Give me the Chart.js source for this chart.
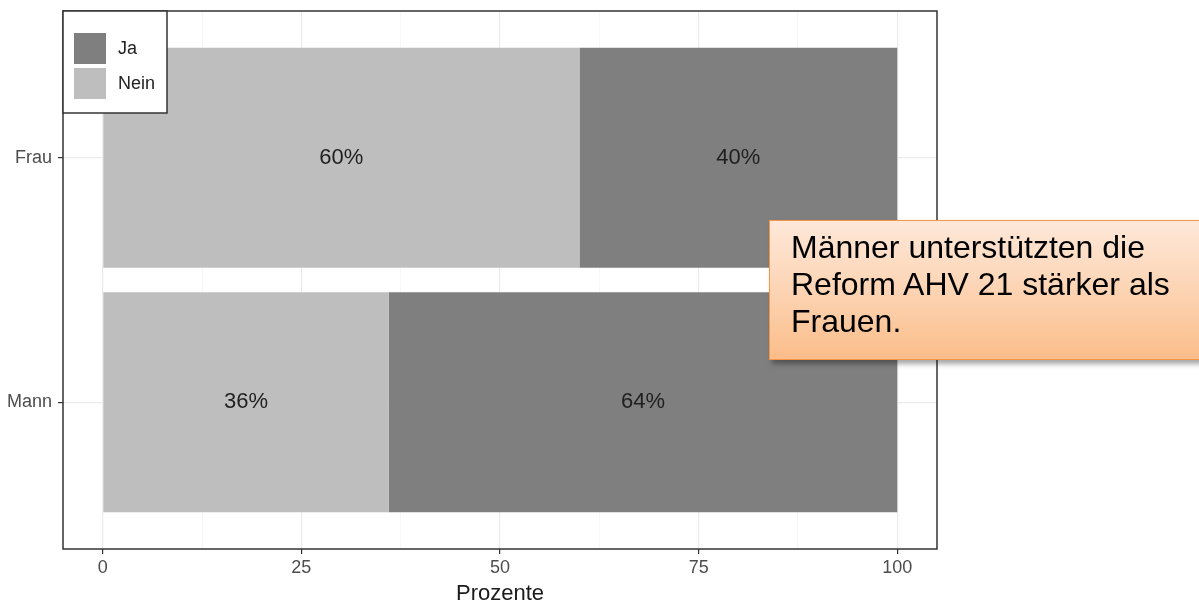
<!DOCTYPE html>
<html lang="de">
<head>
<meta charset="utf-8">
<title>AHV 21 – Zustimmung nach Geschlecht</title>
<script src="https://cdn.jsdelivr.net/npm/chart.js@4/dist/chart.umd.min.js"></script>
<style>
  html, body { margin: 0; padding: 0; background: #ffffff; overflow: hidden; }
  #wrap { position: relative; width: 1199px; height: 609px; overflow: hidden; }
  #chart { position: absolute; left: 0; top: 0; }
  #note {
    position: absolute;
    left: 769px; top: 220px;
    width: 460px; height: 140px;
    box-sizing: border-box;
    padding: 8px 0 0 21px;
    border: 1.5px solid #f79646;
    background: linear-gradient(to bottom, #fee8d9 0%, #fcd2b0 55%, #fbbd89 100%);
    box-shadow: 3px 4px 5px rgba(0, 0, 0, 0.35);
    font-family: "Liberation Sans", Arial, sans-serif;
    font-size: 32px;
    line-height: 37px;
    color: #000000;
  }
</style>
</head>
<body>
<div id="wrap">
  <canvas id="chart" width="1199" height="609"></canvas>
  <div id="note">Männer unterstützten die<br>Reform AHV 21 stärker als<br>Frauen.</div>
</div>
<script>
// Kategorien und Anteile (Prozent)
const categories = ['Frau', 'Mann'];
const nein = [60, 36];
const ja = [40, 64];
const xTicks = [0, 25, 50, 75, 100];
const xMinorTicks = [12.5, 37.5, 62.5, 87.5];

const FONT = '"Liberation Sans", Arial, sans-serif';
const COL_JA = '#7f7f7f';
const COL_NEIN = '#bebebe';

// categories sit at positions 1, 2 on a linear index axis
const toPoints = vals => vals.map((v, i) => ({ x: v, y: i + 1 }));

// Prozentwerte in der Mitte jedes Balkens
const barLabels = {
  id: 'barLabels',
  afterDatasetsDraw(chart) {
    const ctx = chart.ctx;
    ctx.save();
    ctx.font = '22px ' + FONT;
    ctx.fillStyle = '#1f1f1f';
    ctx.textAlign = 'center';
    ctx.textBaseline = 'middle';
    chart.data.datasets.forEach((ds, di) => {
      chart.getDatasetMeta(di).data.forEach((el, i) => {
        const v = ds.data[i].x;
        ctx.fillText(v + '%', (el.x + el.base) / 2, el.y);
      });
    });
    ctx.restore();
  }
};

// Panelrahmen und Legende
const panelFrame = {
  id: 'panelFrame',
  afterDraw(chart) {
    const ctx = chart.ctx;
    const a = chart.chartArea;
    ctx.save();
    ctx.strokeStyle = '#333333';
    ctx.lineWidth = 1.5;
    ctx.strokeRect(a.left, a.top, a.right - a.left, a.bottom - a.top);

    // Legende oben links im Panel
    const lx = a.left, ly = a.top, lw = 104, lh = 102;
    ctx.fillStyle = '#ffffff';
    ctx.fillRect(lx, ly, lw, lh);
    ctx.strokeRect(lx, ly, lw, lh);
    const entries = [
      { label: 'Ja', color: COL_JA },
      { label: 'Nein', color: COL_NEIN }
    ];
    ctx.font = '18px ' + FONT;
    ctx.textAlign = 'left';
    ctx.textBaseline = 'middle';
    entries.forEach((e, i) => {
      const ky = ly + 22 + i * 35;
      ctx.fillStyle = e.color;
      ctx.fillRect(lx + 11, ky, 32, 31);
      ctx.fillStyle = '#222222';
      ctx.fillText(e.label, lx + 55, ky + 16);
    });
    ctx.restore();
  }
};

new Chart(document.getElementById('chart'), {
  type: 'bar',
  data: {
    datasets: [
      { label: 'Nein', data: toPoints(nein), backgroundColor: COL_NEIN },
      { label: 'Ja', data: toPoints(ja), backgroundColor: COL_JA }
    ]
  },
  options: {
    indexAxis: 'y',
    responsive: false,
    animation: false,
    devicePixelRatio: 1,
    barPercentage: 0.9,
    categoryPercentage: 1.0,
    layout: { padding: { left: 0, top: 11, right: 262, bottom: 0 } },
    plugins: {
      legend: { display: false },
      tooltip: { enabled: false }
    },
    scales: {
      x: {
        type: 'linear',
        stacked: true,
        min: -5,
        max: 105,
        afterBuildTicks(scale) {
          scale.ticks = xTicks.concat(xMinorTicks).sort((p, q) => p - q).map(v => ({ value: v }));
        },
        afterFit(scale) {
          scale.height = 60;
          scale.paddingLeft = 0;
          scale.paddingRight = 0;
        },
        border: { display: false },
        grid: {
          color: c => (c.tick && c.tick.value % 25 === 0) ? '#ebebeb' : '#f3f3f3',
          lineWidth: c => (c.tick && c.tick.value % 25 === 0) ? 1.2 : 0.7,
          tickColor: c => (c.tick && c.tick.value % 25 === 0) ? '#333333' : 'rgba(0,0,0,0)',
          tickLength: 5,
          tickWidth: 1.2
        },
        ticks: {
          autoSkip: false,
          maxRotation: 0,
          padding: 3,
          color: '#4d4d4d',
          font: { family: FONT, size: 18 },
          callback: v => (xTicks.includes(v) ? String(v) : '')
        },
        title: {
          display: true,
          text: 'Prozente',
          color: '#1a1a1a',
          font: { family: FONT, size: 22 },
          padding: { top: 0, bottom: 2 }
        }
      },
      y: {
        type: 'linear',
        stacked: true,
        reverse: true,
        offset: false,
        min: 0.4,
        max: 2.6,
        afterBuildTicks(scale) {
          scale.ticks = categories.map((_, i) => ({ value: i + 1 }));
        },
        afterFit(scale) {
          scale.width = 63;
          scale.paddingTop = 0;
          scale.paddingBottom = 0;
        },
        border: { display: false },
        grid: {
          offset: false,
          color: '#ebebeb',
          lineWidth: 1.2,
          tickColor: '#333333',
          tickLength: 5,
          tickWidth: 1.2
        },
        ticks: {
          autoSkip: false,
          padding: 6,
          color: '#4d4d4d',
          font: { family: FONT, size: 18 },
          callback: v => categories[Math.round(v) - 1] || ''
        }
      }
    }
  },
  plugins: [barLabels, panelFrame]
});
</script>
</body>
</html>
